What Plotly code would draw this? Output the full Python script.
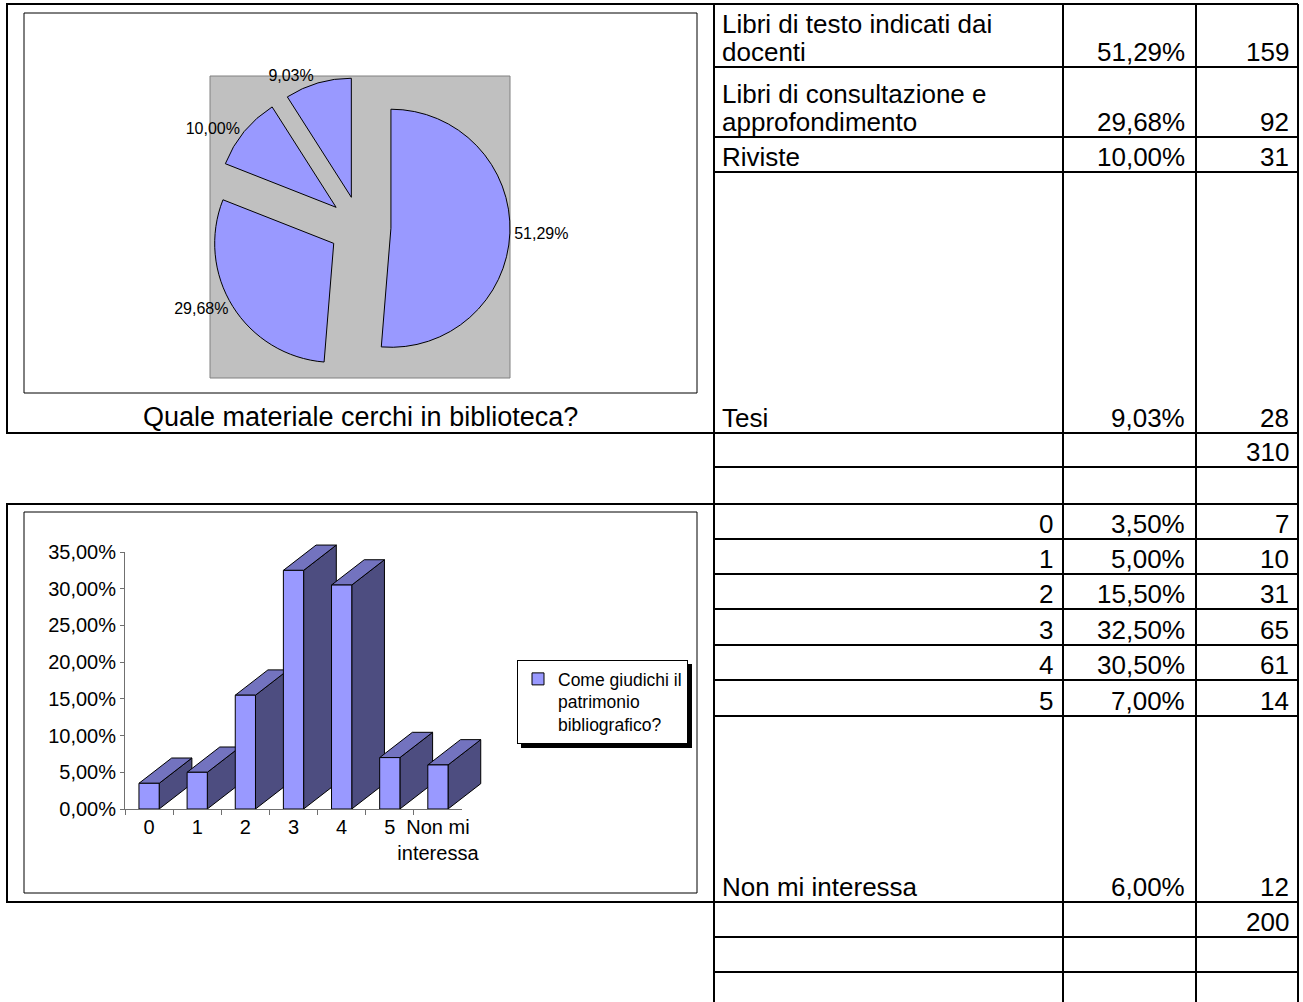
import plotly.graph_objects as go

W, H = 1303, 1002
FONT = "Liberation Sans, Arial, sans-serif"

# ---------------- data ----------------
material_labels = ["Libri di testo indicati dai docenti",
                   "Libri di consultazione e approfondimento",
                   "Riviste", "Tesi"]
material_label_lines = [["Libri di testo indicati dai", "docenti"],
                        ["Libri di consultazione e", "approfondimento"],
                        ["Riviste"], ["Tesi"]]
material_counts = [159, 92, 31, 28]
material_title = "Quale materiale cerchi in biblioteca?"

rating_labels = ["0", "1", "2", "3", "4", "5", "Non mi interessa"]
rating_tick_text = ["0", "1", "2", "3", "4", "5", "Non mi<br>interessa"]
rating_counts = [7, 10, 31, 65, 61, 14, 12]
rating_series = "Come giudichi il<br>patrimonio<br>bibliografico?"
y_tick_step = 5
y_max = 35

material_total = sum(material_counts)
rating_total = sum(rating_counts)
material_pct = [c / material_total * 100 for c in material_counts]
rating_pct = [c / rating_total * 100 for c in rating_counts]


def pct(v):
    return f"{v:.2f}".replace(".", ",") + "%"


# ---------------- geometry helpers (pixels -> paper) ----------------
def X(p):
    return p / W


def Y(p):
    return 1 - p / H


fig = go.Figure()

# ---------------- pie chart ----------------
PIE_L, PIE_R, PIE_T, PIE_B = 210, 510, 76, 378
fig.add_trace(go.Pie(
    values=material_counts,
    labels=material_labels,
    text=[pct(p) for p in material_pct],
    textinfo="text",
    textposition="outside",
    sort=False,
    direction="clockwise",
    rotation=0,
    pull=[0.26] * len(material_counts),
    marker=dict(colors=["#9999FF"] * len(material_counts),
                line=dict(color="black", width=1)),
    textfont=dict(family=FONT, size=16, color="black"),
    outsidetextfont=dict(family=FONT, size=16, color="black"),
    domain=dict(x=[X(PIE_L), X(PIE_R)], y=[Y(PIE_B), Y(PIE_T)]),
    showlegend=False,
    hoverinfo="label+value+text",
))

# ---------------- 3D-looking bar chart ----------------
AX_L, AX_R, AX_T, AX_B = 125, 462, 552, 809
PPX = (AX_R - AX_L) / len(rating_labels)
PPY = (AX_B - AX_T) / y_max
BAR_W = 0.42
DX = 32.7 / PPX
DY = 25.3 / PPY
FL, FR, FT, FB = 118, 530, 515, 815

sides_x, sides_y, tops_x, tops_y = [], [], [], []
for i, v in enumerate(rating_pct):
    l, r = i - BAR_W / 2, i + BAR_W / 2
    sides_x += [r, r, r + DX, r + DX, r, None]
    sides_y += [0, v, v + DY, DY, 0, None]
    tops_x += [l, r, r + DX, l + DX, l, None]
    tops_y += [v, v, v + DY, v + DY, v, None]

fig.add_trace(go.Scatter(x=sides_x, y=sides_y, mode="lines", fill="toself",
                         fillcolor="#4D4D80", line=dict(color="black", width=1),
                         xaxis="x", yaxis="y", showlegend=False, hoverinfo="skip"))
fig.add_trace(go.Scatter(x=tops_x, y=tops_y, mode="lines", fill="toself",
                         fillcolor="#7373BF", line=dict(color="black", width=1),
                         xaxis="x", yaxis="y", showlegend=False, hoverinfo="skip"))
fig.add_trace(go.Bar(x=rating_tick_text, y=rating_pct, width=BAR_W,
                     marker=dict(color="#9999FF", line=dict(color="black", width=1)),
                     name=rating_series, xaxis="x2", yaxis="y2", showlegend=True))

AXIS_COL = "#707070"
fig.update_layout(
    width=W, height=H,
    margin=dict(l=0, r=0, t=0, b=0, pad=0, autoexpand=False),
    paper_bgcolor="white", plot_bgcolor="rgba(0,0,0,0)",
    separators=",.",
    font=dict(family=FONT, color="black"),
    xaxis=dict(domain=[X(FL), X(FR)], anchor="y", visible=False, fixedrange=True,
               range=[-0.5 - (AX_L - FL) / PPX, -0.5 + (FR - AX_L) / PPX]),
    yaxis=dict(domain=[Y(FB), Y(FT)], anchor="x", visible=False, fixedrange=True,
               range=[-(FB - AX_B) / PPY, (AX_B - FT) / PPY]),
    xaxis2=dict(domain=[X(AX_L), X(AX_R)], anchor="y2", type="category",
                range=[-0.5, len(rating_labels) - 0.5], showline=True,
                linecolor=AXIS_COL, linewidth=1, ticks="outside", tickson="boundaries",
                ticklen=5, tickcolor=AXIS_COL, showgrid=False, zeroline=False,
                tickangle=0, automargin=False,
                tickfont=dict(family=FONT, size=20, color="black"), fixedrange=True),
    yaxis2=dict(domain=[Y(AX_B), Y(AX_T)], anchor="x2", range=[0, y_max],
                tick0=0, dtick=y_tick_step, tickformat=".2f", ticksuffix="%",
                showline=True, linecolor=AXIS_COL, linewidth=1, ticks="outside",
                ticklen=4, tickcolor=AXIS_COL, showgrid=False, zeroline=False,
                automargin=False,
                tickfont=dict(family=FONT, size=20, color="black"), fixedrange=True),
    legend=dict(x=X(517), y=Y(660), xanchor="left", yanchor="top",
                bgcolor="white", bordercolor="black", borderwidth=1,
                font=dict(family=FONT, size=17.5, color="black"), valign="top"),
)

# ---------------- shapes: frames, plot area, table grid ----------------
shapes = []
# grey plot area behind pie
shapes.append(dict(type="rect", xref="paper", yref="paper", layer="below",
                   x0=X(PIE_L), x1=X(PIE_R), y0=Y(PIE_B), y1=Y(PIE_T),
                   fillcolor="#C0C0C0", line=dict(color="#808080", width=1)))
# legend shadow
shapes.append(dict(type="rect", xref="paper", yref="paper", layer="below",
                   x0=X(521), x1=X(692), y0=Y(748), y1=Y(664),
                   fillcolor="black", line=dict(width=0)))
# chart inner frames
for (x0, y0, x1, y1) in [(24, 13, 697, 393), (24, 512, 697, 893)]:
    shapes.append(dict(type="rect", xref="paper", yref="paper", layer="below",
                       x0=X(x0), x1=X(x1), y0=Y(y1), y1=Y(y0),
                       line=dict(color="black", width=1)))
# chart outer boxes
for (x0, y0, x1, y1) in [(7, 4, 714, 433), (7, 504, 714, 902)]:
    shapes.append(dict(type="rect", xref="paper", yref="paper",
                       x0=X(x0), x1=X(x1), y0=Y(y1), y1=Y(y0),
                       line=dict(color="black", width=2)))
# table grid
COL_X = [714, 1063, 1196, 1298]
ROW_Y = [4, 67, 137, 172, 433, 467, 504, 539, 574, 609, 645, 680, 716, 902, 937, 972]
for cx in COL_X:
    shapes.append(dict(type="line", xref="paper", yref="paper",
                       x0=X(cx), x1=X(cx), y0=Y(4), y1=Y(H),
                       line=dict(color="black", width=2)))
for ry in ROW_Y:
    shapes.append(dict(type="line", xref="paper", yref="paper",
                       x0=X(COL_X[0]), x1=X(COL_X[-1]), y0=Y(ry), y1=Y(ry),
                       line=dict(color="black", width=2)))
fig.update_layout(shapes=shapes)

# ---------------- annotations: table texts and caption ----------------
FS = 26
LINE = 28
ann = []


def text_at(txt, x, baseline, anchor, size=FS):
    ann.append(dict(text=txt, xref="paper", yref="paper", x=X(x),
                    y=Y(baseline - 0.3465 * size), xanchor=anchor, yanchor="middle",
                    showarrow=False, font=dict(family=FONT, size=size, color="black")))


LEFT_X, C1_R, C2_R, C3_R = 720, 1055, 1187, 1291
material_row_bottoms = [67, 137, 172, 433]
for lines, p, c, rb in zip(material_label_lines, material_pct, material_counts,
                           material_row_bottoms):
    base = rb - 6
    for k, ln in enumerate(reversed(lines)):
        text_at(ln, LEFT_X, base - k * LINE, "left")
    text_at(pct(p), C2_R, base, "right")
    text_at(str(c), C3_R, base, "right")
text_at(str(material_total), C3_R, 467 - 6, "right")

rating_row_bottoms = [539, 574, 609, 645, 680, 716, 902]
for lab, p, c, rb in zip(rating_labels, rating_pct, rating_counts, rating_row_bottoms):
    base = rb - 6
    if lab.isdigit():
        text_at(lab, C1_R, base, "right")
    else:
        text_at(lab, LEFT_X, base, "left")
    text_at(pct(p), C2_R, base, "right")
    text_at(str(c), C3_R, base, "right")
text_at(str(rating_total), C3_R, 937 - 6, "right")

# caption of the pie chart
text_at(material_title, 360.5, 426, "center", size=27)

fig.update_layout(annotations=ann)

fig.write_html("out.html", config={"displayModeBar": False},
               post_script="document.body.style.margin='0';")
